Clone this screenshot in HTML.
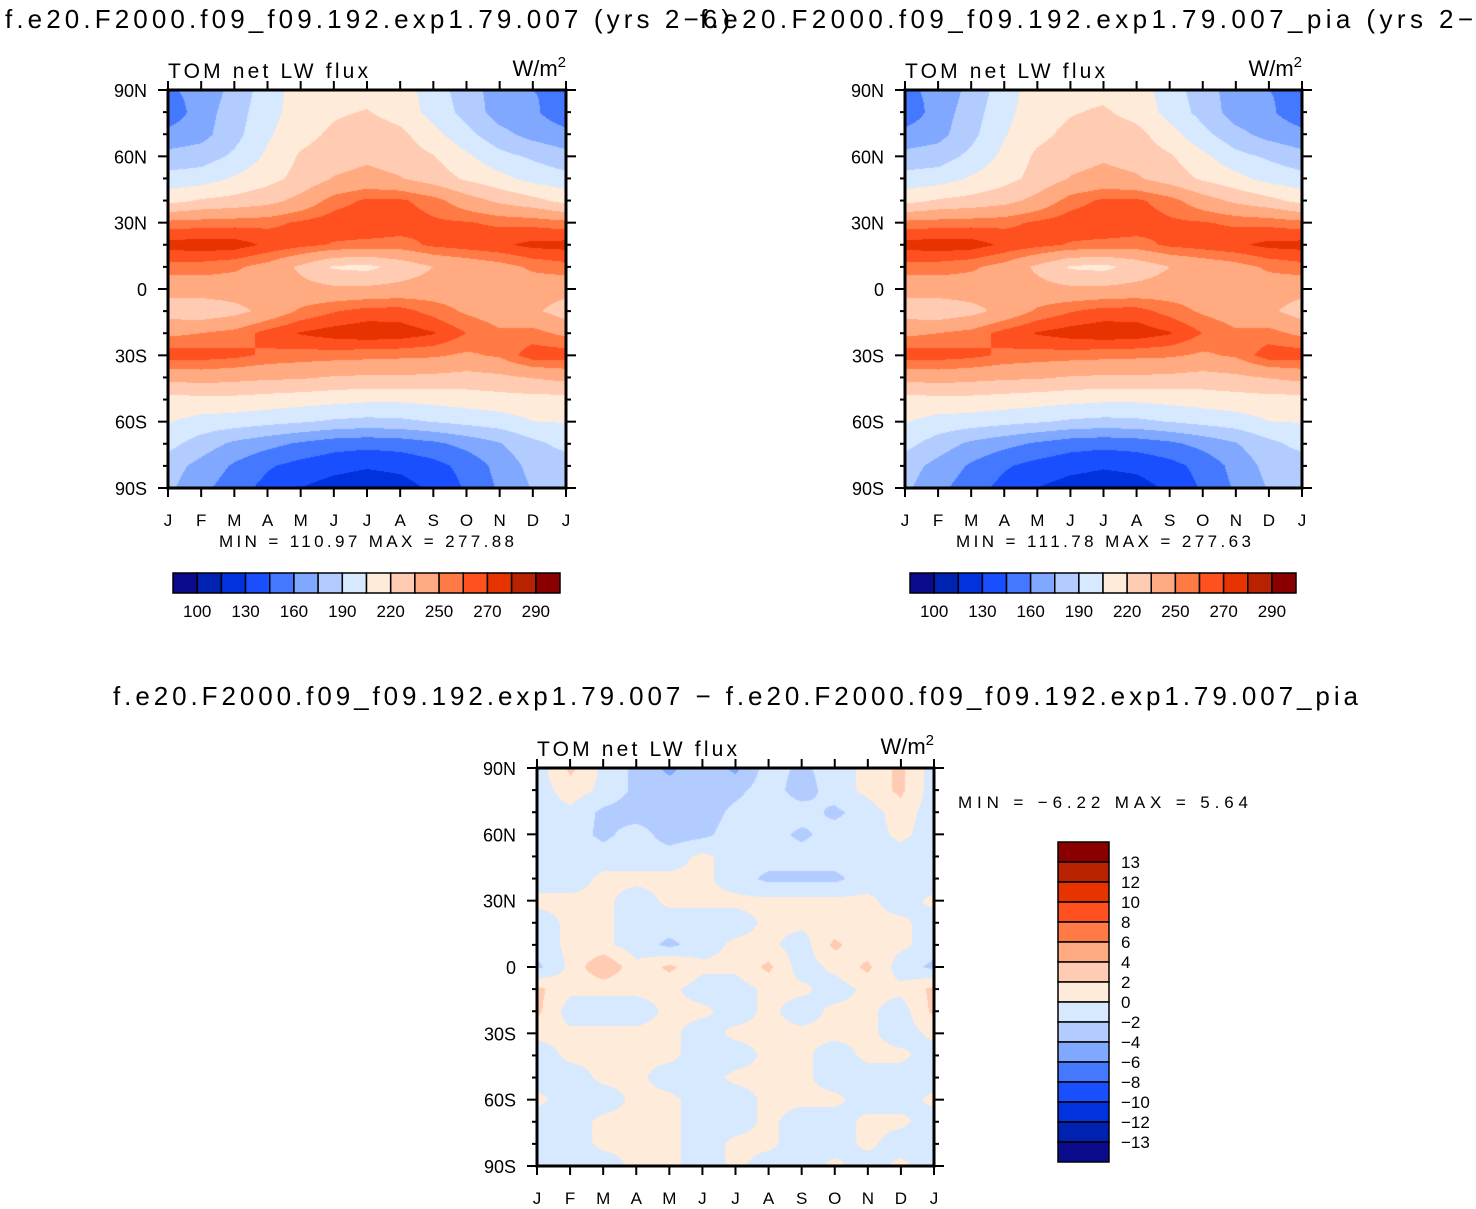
<!DOCTYPE html>
<html><head><meta charset="utf-8"><style>
html,body{margin:0;padding:0;background:#fff;}
#wrap{position:relative;width:1476px;height:1209px;overflow:hidden;}
canvas,svg{position:absolute;left:0;top:0;}
text{font-family:"Liberation Sans",sans-serif;fill:#000;}
</style></head><body>
<div id="wrap">
<canvas id="cv" width="1476" height="1209"></canvas>
<svg id="sv" width="1476" height="1209"></svg>
</div>
<script>
const months=["J","F","M","A","M","J","J","A","S","O","N","D","J"];
const latLabels=["90N","60N","30N","0","30S","60S","90S"];
const levels=[100,115,130,145,160,175,190,205,220,235,250,260,270,280,290];
const levelLabels=["100","130","160","190","220","250","270","290"];
const diffLevels=[-13,-12,-10,-8,-6,-4,-2,0,2,4,6,8,10,12,13];
const diffLabels=["13","12","10","8","6","4","2","0","−2","−4","−6","−8","−10","−12","−13"];
const palette=["#0a0a8c","#0022b0","#0033dd","#1a4fff","#4478ff","#80a8ff","#b3ccff","#d6e9ff","#ffebd9","#ffccb3","#ffaa80","#ff7a45","#ff5020","#e63300","#b82200","#8a0000"];
// rows 90N..90S every 10 deg, columns Jan..Dec,Jan
const ctlGrid=[
[158,165,180,198,212,215,215,212,198,182,168,160,158],
[150,168,183,200,212,218,221,214,200,185,168,163,150],
[165,170,185,203,215,223,228,224,210,195,180,170,165],
[180,183,193,208,222,228,232,228,221,208,195,188,180],
[196,198,207,215,225,236,240,236,228,218,210,200,196],
[215,222,225,230,240,255,262,262,255,242,232,225,215],
[254,255,256,257,262,266,268,266,262,261,258,257,254],
[274,276,275,268,263,259,257,256,262,265,268,273,274],
[256,255,252,245,232,218,216,225,235,240,245,252,256],
[240,242,243,243,240,238,238,240,242,243,243,243,240],
[228,225,230,240,252,259,264,264,256,248,243,238,228],
[247,250,254,264,271,275,277,276,271,260,252,254,247],
[266,265,263,258,256,255,254,253,252,248,252,266,266],
[240,242,240,238,237,234,233,233,232,230,232,236,240],
[215,216,216,214,212,210,208,208,210,212,214,215,215],
[206,200,198,195,192,188,186,187,191,195,198,205,206],
[195,183,172,165,158,152,150,152,157,165,174,186,195],
[182,170,158,147,140,135,132,134,140,150,165,180,182],
[178,164,152,140,130,124,120,124,133,147,162,176,178]];
const piaGrid=[
[157,164,180,198,213,216,216,212,198,182,168,160,157],
[150,167,183,201,213,219,222,215,200,185,168,163,150],
[165,170,186,204,216,224,229,225,211,195,180,170,165],
[180,183,194,209,223,229,233,229,222,209,195,188,180],
[196,198,207,215,225,236,240,237,228,218,210,200,196],
[215,222,225,230,240,255,262,262,255,242,232,225,215],
[254,255,256,257,262,266,268,266,262,261,258,257,254],
[274,276,275,268,263,259,257,256,262,265,268,273,274],
[256,255,252,245,232,218,216,225,235,240,245,252,256],
[240,242,243,243,240,238,238,240,242,243,243,243,240],
[228,225,230,240,252,259,264,264,256,248,243,238,228],
[247,250,254,264,271,275,277,276,271,260,252,254,247],
[266,265,263,258,256,255,254,253,252,248,252,266,266],
[240,242,240,238,237,234,233,233,232,230,232,236,240],
[215,216,216,214,212,210,208,208,210,212,214,215,215],
[206,200,198,195,192,188,186,187,191,195,198,205,206],
[195,183,172,165,158,152,150,152,157,165,174,186,195],
[182,170,158,147,140,135,132,134,140,150,165,180,182],
[178,164,152,140,130,124,121,124,133,147,162,176,178]];
const diffGrid=[
[-1,2.5,-0.5,-2.5,-4.5,-2.5,-4.5,-1,-2.5,-1,0.5,2.5,-1],
[-1,1,-0.5,-2.5,-3,-3,-2.5,-1,-3,-1,0.5,2.5,-1],
[-1,-0.5,-2.5,-3,-3,-3,-1.5,-1,-1,-2.5,-1,1,-1],
[-1,-1,-2.5,-1,-3,-2.5,-1,-1,-2.5,-1,-1,0.5,-1],
[-1,-1,-1,-1,-1,0.5,-1,-1,-1,-1,-1,-1,-1],
[-1,-1,0.5,0.5,0.5,0.5,-1,-2.5,-2.5,-2.5,-1,-1,-1],
[0.5,0.5,0.5,-1,0.5,0.5,0.5,0.5,0.5,0.5,0.5,-1,0.5],
[-1,0.5,0.5,-1,-1,-1,-1,0.5,0.5,0.5,0.5,0.5,-1],
[-1,0.5,0.5,-1,-2.5,-1,0.5,0.5,-1,2.5,0.5,0.5,-1],
[-2.5,0.5,4,0.5,2.5,0.5,0.5,2.5,-1,0.5,2.5,-1,-2.5],
[2.5,0.5,0.5,0.5,0.5,-1,-1,0.5,0.5,-1,0.5,0.5,2.5],
[2.5,-1,-1,-1,0.5,0.5,-1,0.5,-1,0.5,0.5,-1,2.5],
[0.5,0.5,0.5,0.5,0.5,-1,0.5,0.5,0.5,0.5,0.5,-1,0.5],
[-1,0.5,0.5,0.5,0.5,-1,-1,0.5,0.5,-1,0.5,0.5,-1],
[-1,-1,0.5,0.5,-1,-1,0.5,0.5,0.5,-1,-1,-1,-1],
[0.5,-1,-1,0.5,0.5,-1,-1,0.5,0.5,0.5,-1,-1,0.5],
[-1,-1,0.5,0.5,0.5,-1,-1,0.5,-1,-1,0.5,0.5,-1],
[-1,-1,0.5,0.5,0.5,-1,0.5,0.5,-1,-1,0.5,-1,-1],
[-1,-1,-1,0.5,0.5,-1,0.5,-1,-1,0.5,-1,0.5,-1]];

const NS="http://www.w3.org/2000/svg";
const sv=document.getElementById('sv');
const ctx=document.getElementById('cv').getContext('2d');
function mk(tag,attrs,parent,txt){const e=document.createElementNS(NS,tag);for(const k in attrs)e.setAttribute(k,attrs[k]);if(txt!==undefined)e.textContent=txt;(parent||sv).appendChild(e);return e;}
function bin(v,lv){let i=0;while(i<lv.length&&v>=lv[i])i++;return i;}
function hex(c){return [parseInt(c.slice(1,3),16),parseInt(c.slice(3,5),16),parseInt(c.slice(5,7),16)];}
const pal=palette.map(hex);

function panel(x0,y0,w,h,grid,lv,name){
  const xs=d=>x0+d/12*w, ys=r=>y0+r/18*h;
  const img=ctx.createImageData(w,h);
  for(let py=0;py<h;py++){const fr=py/(h-1)*18;const r0=Math.min(17,Math.floor(fr)),tr=fr-r0;
    for(let px=0;px<w;px++){const fc=px/(w-1)*12;const c0=Math.min(11,Math.floor(fc)),tc=fc-c0;
      const v=(grid[r0][c0]*(1-tc)+grid[r0][c0+1]*tc)*(1-tr)+(grid[r0+1][c0]*(1-tc)+grid[r0+1][c0+1]*tc)*tr;
      const col=pal[bin(v,lv)];const i=(py*w+px)*4;img.data[i]=col[0];img.data[i+1]=col[1];img.data[i+2]=col[2];img.data[i+3]=255;}}
  ctx.putImageData(img,x0,y0);
  const g=mk('g',{});
  
  
  mk('rect',{x:x0,y:y0,width:w,height:h,fill:'none',stroke:'#000','stroke-width':3},g);
  for(let m=0;m<=12;m++){const x=xs(m);
    mk('line',{x1:x,x2:x,y1:y0,y2:y0-9,stroke:'#000','stroke-width':2},g);
    mk('line',{x1:x,x2:x,y1:y0+h,y2:y0+h+9,stroke:'#000','stroke-width':2},g);
    const t=mk('text',{x:x,y:y0+h+38,'font-size':17,'text-anchor':'middle'},g,months[m]);
    
    }
  for(let r=0;r<=18;r++){const y=ys(r);const maj=r%3===0;const L=maj?10:5;
    mk('line',{x1:x0,x2:x0-L,y1:y,y2:y,stroke:'#000','stroke-width':2},g);
    mk('line',{x1:x0+w,x2:x0+w+L,y1:y,y2:y,stroke:'#000','stroke-width':2},g);
    if(maj){const t=mk('text',{x:x0-21,y:y+7,'font-size':18,'text-anchor':'end'},g,latLabels[r/3]);
      
      }}
  mk('text',{x:x0,y:y0-12,'font-size':21,textLength:200,lengthAdjust:'spacing'},g,'TOM net LW flux');
  const u=mk('text',{x:x0+w,y:y0-14,'font-size':22,'text-anchor':'end'},g,'W/m');
  mk('tspan',{dy:-9,'font-size':15},u,'2');
}
function hbar(x0,y0,w,h,name){
  const g=mk('g',{});
  
  
  const bw=w/16;
  for(let i=0;i<16;i++)mk('rect',{x:x0+i*bw,y:y0,width:bw,height:h,fill:palette[i],stroke:'#000','stroke-width':1.5},g);
  levelLabels.forEach((l,k)=>mk('text',{x:x0+(2*k+1)*bw,y:y0+44,'font-size':17,'text-anchor':'middle'},g,l));
}
panel(168,90,398,398,ctlGrid,levels,'control-panel');
panel(905,90,397,398,piaGrid,levels,'pia-panel');
panel(537,768,397,398,diffGrid,diffLevels,'difference-panel');
mk('text',{x:5,y:28,'font-size':26,textLength:725,lengthAdjust:'spacing'},sv,'f.e20.F2000.f09_f09.192.exp1.79.007 (yrs 2−6)');
mk('text',{x:700,y:28,'font-size':26,textLength:805,lengthAdjust:'spacing'},sv,'f.e20.F2000.f09_f09.192.exp1.79.007_pia (yrs 2−3)');
mk('text',{x:219,y:547,'font-size':17,textLength:295,lengthAdjust:'spacing'},sv,'MIN = 110.97 MAX = 277.88');
mk('text',{x:956,y:547,'font-size':17,textLength:295,lengthAdjust:'spacing'},sv,'MIN = 111.78 MAX = 277.63');
hbar(173,573,387,20,'control-colorbar');
hbar(910,573,386,20,'pia-colorbar');
mk('text',{x:113,y:705,'font-size':26,textLength:1245,lengthAdjust:'spacing'},sv,'f.e20.F2000.f09_f09.192.exp1.79.007 − f.e20.F2000.f09_f09.192.exp1.79.007_pia');
mk('text',{x:958,y:808,'font-size':17,textLength:290,lengthAdjust:'spacing'},sv,'MIN = −6.22 MAX = 5.64');
const vb=mk('g',{});


for(let i=0;i<16;i++)mk('rect',{x:1058,y:842+i*20,width:51,height:20,fill:palette[15-i],stroke:'#000','stroke-width':1.5},vb);
diffLabels.forEach((l,k)=>mk('text',{x:1121,y:868+k*20,'font-size':17},vb,l));
</script>
</body></html>
